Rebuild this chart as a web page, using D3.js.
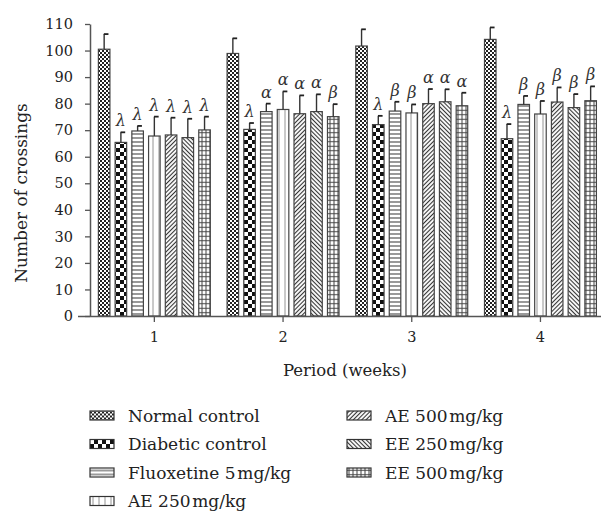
<!DOCTYPE html>
<meta charset="utf-8">
<style>
  body { margin: 0; background: #fff; }
  text { font-family: "DejaVu Serif", serif; fill: #222; }
</style>

<!-- Load d3.js -->
<script src="https://d3js.org/d3.v7.min.js"></script>

<!-- Create a div where the graph will take place -->
<div id="my_dataviz"></div>
<script>

// categories and series
var periods = ["1", "2", "3", "4"];
var groups = ["Normal control", "Diabetic control", "Fluoxetine 5\u200Amg/kg", "AE 250\u200Amg/kg",
              "AE 500\u200Amg/kg", "EE 250\u200Amg/kg", "EE 500\u200Amg/kg"];
var yTicks = [0, 10, 20, 30, 40, 50, 60, 70, 80, 90, 100, 110];

// mean number of crossings per period, one array per group
var normalMean   = [100.5, 98.9, 101.7, 104.2];
var diabeticMean = [65.4, 70.3, 72.1, 66.8];
var fluoxMean    = [69.7, 77.0, 77.2, 79.7];
var ae250Mean    = [67.8, 77.8, 76.5, 76.1];
var ae500Mean    = [68.2, 76.2, 80.0, 80.6];
var ee250Mean    = [67.2, 77.0, 80.7, 78.5];
var ee500Mean    = [70.1, 75.1, 79.2, 81.1];

// error bars (upper only)
var normalErr   = [5.7, 5.7, 6.3, 4.5];
var diabeticErr = [3.8, 2.4, 3.3, 5.5];
var fluoxErr    = [1.9, 3.0, 3.5, 3.2];
var ae250Err    = [7.3, 6.8, 3.2, 4.9];
var ae500Err    = [6.5, 6.9, 5.5, 5.5];
var ee250Err    = [7.1, 6.5, 4.7, 5.1];
var ee500Err    = [5.0, 4.7, 4.9, 5.4];

// significance marks over the bars
var normalSig   = ["", "", "", ""];
var diabeticSig = ["λ", "λ", "λ", "λ"];
var fluoxSig    = ["λ", "α", "β", "β"];
var ae250Sig    = ["λ", "α", "β", "β"];
var ae500Sig    = ["λ", "α", "α", "β"];
var ee250Sig    = ["λ", "α", "α", "β"];
var ee500Sig    = ["λ", "β", "α", "β"];

var means = [normalMean, diabeticMean, fluoxMean, ae250Mean, ae500Mean, ee250Mean, ee500Mean];
var errs  = [normalErr, diabeticErr, fluoxErr, ae250Err, ae500Err, ee250Err, ee500Err];
var sigs  = [normalSig, diabeticSig, fluoxSig, ae250Sig, ae500Sig, ee250Sig, ee500Sig];
var patternIds = ["p0", "p1", "p2", "p3", "p4", "p5", "p6"];

// flat table of bars
var data = [];
periods.forEach(function(p, i) {
  groups.forEach(function(g, j) {
    data.push({period: p, group: g, idx: j, value: means[j][i], err: errs[j][i], sig: sigs[j][i]});
  });
});

var svg = d3.select("#my_dataviz")
  .append("svg")
    .attr("width", 601)
    .attr("height", 512);

// hatch patterns
var defs = svg.append("defs");
function pat(id, w, h, tr) {
  var p = defs.append("pattern").attr("id", id)
    .attr("patternUnits", "userSpaceOnUse")
    .attr("width", w).attr("height", h);
  if (tr) p.attr("patternTransform", tr);
  p.append("rect").attr("width", w).attr("height", h).attr("fill", "#fff");
  return p;
}
// fine checker
var p0 = pat("p0", 4, 4);
p0.append("rect").attr("width", 2).attr("height", 2).attr("fill", "#222");
p0.append("rect").attr("x", 2).attr("y", 2).attr("width", 2).attr("height", 2).attr("fill", "#222");
// coarse checker
var p1 = pat("p1", 8, 8);
p1.append("rect").attr("width", 4).attr("height", 4).attr("fill", "#111");
p1.append("rect").attr("x", 4).attr("y", 4).attr("width", 4).attr("height", 4).attr("fill", "#111");
// horizontal lines
var p2 = pat("p2", 4, 4);
p2.append("line").attr("x1", 0).attr("x2", 4).attr("y1", 2).attr("y2", 2).attr("stroke", "#555").attr("stroke-width", 1.2);
// vertical lines
var p3 = pat("p3", 6, 6);
p3.append("line").attr("x1", 3).attr("x2", 3).attr("y1", 0).attr("y2", 6).attr("stroke", "#777").attr("stroke-width", 0.8);
// forward diagonal
var p4 = pat("p4", 3, 3, "rotate(45)");
p4.append("line").attr("x1", 1.5).attr("x2", 1.5).attr("y1", 0).attr("y2", 3).attr("stroke", "#333").attr("stroke-width", 1.1);
// back diagonal
var p5 = pat("p5", 3, 3, "rotate(-45)");
p5.append("line").attr("x1", 1.5).attr("x2", 1.5).attr("y1", 0).attr("y2", 3).attr("stroke", "#333").attr("stroke-width", 1.1);
// grid
var p6 = pat("p6", 4, 4.5);
p6.append("line").attr("x1", 0).attr("x2", 4).attr("y1", 2.25).attr("y2", 2.25).attr("stroke", "#444").attr("stroke-width", 1);
p6.append("line").attr("x1", 2).attr("x2", 2).attr("y1", 0).attr("y2", 4.5).attr("stroke", "#444").attr("stroke-width", 1);

// scales
var x0 = d3.scaleBand()
    .domain(periods)
    .range([90, 604.8])
    .paddingInner(0.09)
    .paddingOuter(0.045);
var x1 = d3.scaleBand()
    .domain(d3.range(groups.length))
    .range([0, x0.bandwidth()])
    .paddingInner(0.31)
    .paddingOuter(0.155);
var y = d3.scaleLinear()
    .domain([0, 110])
    .range([316, 24]);

// bars
svg.selectAll(".bar")
  .data(data)
  .enter()
  .append("rect")
    .attr("class", "bar")
    .attr("x", function(d) { return x0(d.period) + x1(d.idx); })
    .attr("y", function(d) { return y(d.value); })
    .attr("width", x1.bandwidth())
    .attr("height", function(d) { return y(0) - y(d.value); })
    .attr("fill", function(d) { return "url(#" + patternIds[d.idx] + ")"; })
    .attr("stroke", "#444")
    .attr("stroke-width", 1.2);

// error bars
var cx = function(d) { return x0(d.period) + x1(d.idx) + x1.bandwidth() / 2; };
svg.selectAll(".err")
  .data(data)
  .enter()
  .append("line")
    .attr("x1", cx).attr("x2", cx)
    .attr("y1", function(d) { return y(d.value); })
    .attr("y2", function(d) { return y(d.value + d.err); })
    .attr("stroke", "#333")
    .attr("stroke-width", 1.4);
svg.selectAll(".cap")
  .data(data)
  .enter()
  .append("line")
    .attr("x1", function(d) { return cx(d) - 0.3; })
    .attr("x2", function(d) { return cx(d) + 4.3; })
    .attr("y1", function(d) { return y(d.value + d.err); })
    .attr("y2", function(d) { return y(d.value + d.err); })
    .attr("stroke", "#222")
    .attr("stroke-width", 1.8);

// significance marks
svg.selectAll(".sig")
  .data(data.filter(function(d) { return d.sig; }))
  .enter()
  .append("text")
    .attr("x", cx)
    .attr("y", function(d) { return y(d.value + d.err) - 6; })
    .attr("text-anchor", "middle")
    .style("font-size", "16px")
    .style("font-style", "italic")
    .style("fill", "#333")
    .text(function(d) { return d.sig; });

// axes
var yAxis = svg.append("g")
    .attr("transform", "translate(90,0)")
    .call(d3.axisLeft(y).tickValues(yTicks).tickSize(5).tickSizeOuter(0).tickPadding(12));
var xAxis = svg.append("g")
    .attr("transform", "translate(0,316)")
    .call(d3.axisBottom(x0).tickSize(6).tickSizeOuter(0).tickPadding(10));
xAxis.select(".domain").attr("d", "M78,0.5H601");
[yAxis, xAxis].forEach(function(a) {
  a.select(".domain").attr("stroke", "#555").attr("stroke-width", 1.5);
  a.selectAll(".tick line").attr("stroke", "#555").attr("stroke-width", 1.3);
  a.selectAll(".tick text").style("font-size", "14.5px").style("font-family", "DejaVu Serif").attr("fill", "#222");
});

// axis titles
svg.append("text")
    .attr("transform", "translate(27,193) rotate(-90)")
    .attr("text-anchor", "middle")
    .style("font-size", "17px")
    .text("Number of crossings");
svg.append("text")
    .attr("x", 345)
    .attr("y", 376)
    .attr("text-anchor", "middle")
    .style("font-size", "16.5px")
    .text("Period (weeks)");

// legend
var legend = svg.selectAll(".leg")
  .data(groups)
  .enter()
  .append("g")
    .attr("transform", function(d, i) {
      var col = i < 4 ? 0 : 1, row = i < 4 ? i : i - 4;
      return "translate(" + (col ? 347 : 90) + "," + (415.5 + row * 28.5) + ")";
    });
legend.append("rect")
    .attr("y", -4.5)
    .attr("width", 24)
    .attr("height", 9)
    .attr("fill", function(d, i) { return "url(#" + patternIds[i] + ")"; })
    .attr("stroke", "#333")
    .attr("stroke-width", 1.2);
legend.append("text")
    .attr("x", 38)
    .attr("y", 6)
    .style("font-size", "17px")
    .text(function(d) { return d; });

</script>
